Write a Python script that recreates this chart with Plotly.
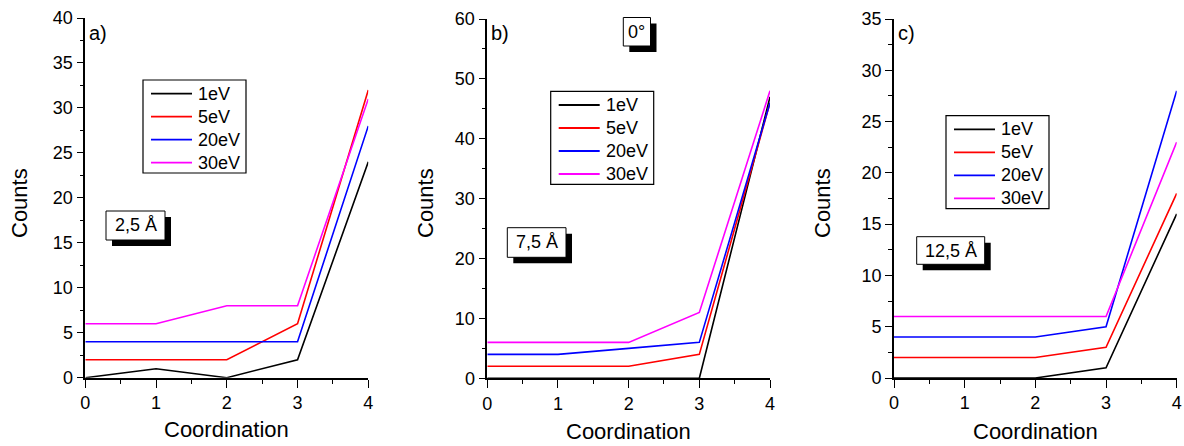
import plotly.graph_objects as go

W, H = 1184, 446

coordination = [0, 1, 2, 3, 4]
energies = ["1eV", "5eV", "20eV", "30eV"]
colors = ["#000000", "#ff0000", "#0000ff", "#ff00ff"]

# panel a) 2,5 Å
a_1eV = [0, 1, 0, 2, 24]
a_5eV = [2, 2, 2, 6, 32]
a_20eV = [4, 4, 4, 4, 28]
a_30eV = [6, 6, 8, 8, 31]
# panel b) 7,5 Å
b_1eV = [0, 0, 0, 0, 47]
b_5eV = [2, 2, 2, 4, 46]
b_20eV = [4, 4, 5, 6, 46]
b_30eV = [6, 6, 6, 11, 48]
# panel c) 12,5 Å
c_1eV = [0, 0, 0, 1, 16]
c_5eV = [2, 2, 2, 3, 18]
c_20eV = [4, 4, 4, 5, 28]
c_30eV = [6, 6, 6, 6, 23]

panels = [
    dict(series=[a_1eV, a_5eV, a_20eV, a_30eV], ymax=40, dtick=5, minor=2.5,
         px=(85.3, 368.3), py=(18, 377.7), label="a)", dist="2,5 Å",
         legend=(143, 80), distbox=(106, 211, 165, 240), counts_x=19, coord_y=429),
    dict(series=[b_1eV, b_5eV, b_20eV, b_30eV], ymax=60, dtick=10, minor=5,
         px=(487.3, 770), py=(19, 378.3), label="b)", dist="7,5 Å",
         legend=(550.7, 91.3), distbox=(507.3, 227.7, 566, 257.3), counts_x=425, coord_y=431),
    dict(series=[c_1eV, c_5eV, c_20eV, c_30eV], ymax=35, dtick=5, minor=2.5,
         px=(894, 1176.7), py=(19, 378), label="c)", dist="12,5 Å",
         legend=(946, 115.7), distbox=(916.7, 236.7, 984.7, 264.3), counts_x=822, coord_y=431),
]

FONT = "Arial, Liberation Sans, sans-serif"

def fx(p):
    return p / W

def fy(p):
    return 1 - p / H

fig = go.Figure()
shapes = []
annotations = []
layout = {}

def shadow_box(x0, y0, x1, y1, text):
    shapes.append(dict(type="rect", xref="paper", yref="paper",
                       x0=fx(x0 + 6), x1=fx(x1 + 6), y0=fy(y0 + 6), y1=fy(y1 + 6),
                       fillcolor="black", line=dict(width=0), layer="above"))
    shapes.append(dict(type="rect", xref="paper", yref="paper",
                       x0=fx(x0), x1=fx(x1), y0=fy(y0), y1=fy(y1),
                       fillcolor="white", line=dict(color="black", width=1), layer="above"))
    annotations.append(dict(
        text=text, x=fx((x0 + x1) / 2), y=fy((y0 + y1) / 2), xref="paper", yref="paper",
        xanchor="center", yanchor="middle", showarrow=False,
        font=dict(family=FONT, size=18, color="black"),
    ))

for i, pnl in enumerate(panels):
    n = "" if i == 0 else str(i + 1)
    xa, ya = "x" + n, "y" + n
    for name, vals, col in zip(energies, pnl["series"], colors):
        fig.add_trace(go.Scatter(
            x=coordination, y=vals, mode="lines", name=name,
            line=dict(color=col, width=1.6),
            xaxis=xa, yaxis=ya, showlegend=False,
        ))
    layout["xaxis" + n] = dict(
        domain=[fx(pnl["px"][0]), fx(pnl["px"][1])], anchor=ya,
        range=[0, 4], dtick=1, tick0=0, showgrid=False, zeroline=False,
        showline=True, linecolor="black", linewidth=1.6, automargin=False,
        ticks="outside", ticklen=8, tickwidth=1.4, tickcolor="black",
        minor=dict(dtick=0.5, tick0=0, ticks="outside", ticklen=4, tickwidth=1.2, tickcolor="black"),
        tickfont=dict(family=FONT, size=18, color="black"),
    )
    layout["yaxis" + n] = dict(
        domain=[fy(pnl["py"][1]), fy(pnl["py"][0])], anchor=xa,
        range=[0, pnl["ymax"]], dtick=pnl["dtick"], tick0=0, showgrid=False, zeroline=False,
        showline=True, linecolor="black", linewidth=1.6, automargin=False,
        ticks="outside", ticklen=7, tickwidth=1.4, tickcolor="black",
        minor=dict(dtick=pnl["minor"], tick0=0, ticks="outside", ticklen=4, tickwidth=1.2, tickcolor="black"),
        tickfont=dict(family=FONT, size=18, color="black"),
    )
    # legend box (drawn as layout items so its compact spacing matches)
    lx, ly = pnl["legend"]
    shapes.append(dict(type="rect", xref="paper", yref="paper",
                       x0=fx(lx), x1=fx(lx + 103), y0=fy(ly), y1=fy(ly + 93),
                       fillcolor="white", line=dict(color="black", width=1.2), layer="above"))
    for k, (name, col) in enumerate(zip(energies, colors)):
        yy = ly + 13.7 + 23 * k
        shapes.append(dict(type="line", xref="paper", yref="paper",
                           x0=fx(lx + 8), x1=fx(lx + 49), y0=fy(yy), y1=fy(yy),
                           line=dict(color=col, width=1.8), layer="above"))
        annotations.append(dict(
            text=name, x=fx(lx + 53), y=fy(yy), xref="paper", yref="paper",
            xanchor="left", yanchor="middle", showarrow=False,
            font=dict(family=FONT, size=18, color="black"),
        ))
    annotations.append(dict(
        text=pnl["label"], x=fx(pnl["px"][0] + 2), y=fy(33), xref="paper", yref="paper",
        xanchor="left", yanchor="middle", showarrow=False,
        font=dict(family=FONT, size=20, color="black"),
    ))
    cx = (pnl["px"][0] + pnl["px"][1]) / 2
    annotations.append(dict(
        text="Coordination", x=fx(cx), y=fy(pnl["coord_y"]), xref="paper", yref="paper",
        xanchor="center", yanchor="middle", showarrow=False,
        font=dict(family=FONT, size=22, color="black"),
    ))
    annotations.append(dict(
        text="Counts", x=fx(pnl["counts_x"]), y=fy(203), xref="paper", yref="paper",
        xanchor="center", yanchor="middle", showarrow=False, textangle=-90,
        font=dict(family=FONT, size=22, color="black"),
    ))
    x0, y0, x1, y1 = pnl["distbox"]
    shadow_box(x0, y0, x1, y1, pnl["dist"])

shadow_box(623.3, 17.5, 650.5, 46, "0°")

fig.update_layout(
    width=W, height=H, margin=dict(l=0, r=0, t=0, b=0, autoexpand=False),
    paper_bgcolor="white", plot_bgcolor="white",
    shapes=shapes, annotations=annotations, showlegend=False,
    **layout,
)

fig.write_html("out.html", config={"displayModeBar": False},
               post_script="document.body.style.margin='0';document.body.style.overflow='hidden';")
